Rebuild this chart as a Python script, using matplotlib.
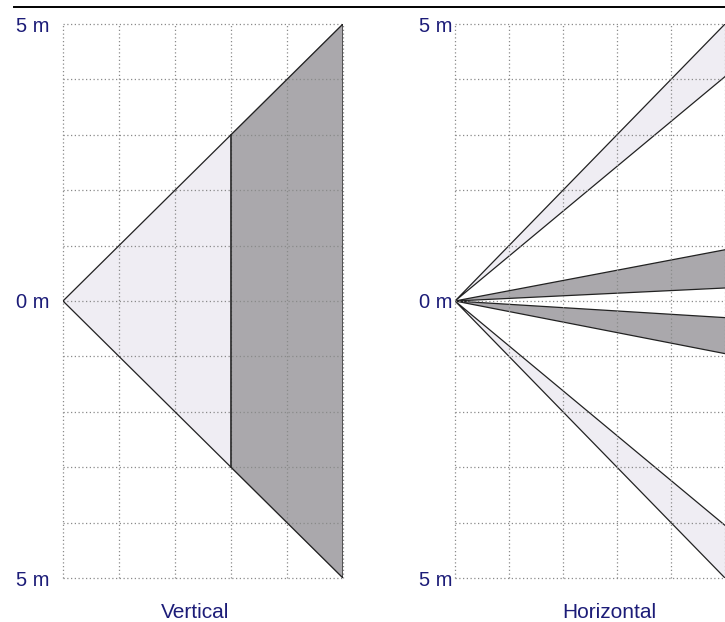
import matplotlib.pyplot as plt
from matplotlib.lines import Line2D

# vertical coverage (metres): full reach, and the distance where the dark zone starts
vert_reach = 5
vert_split = 3

# horizontal coverage: wedges as (upper slope, lower slope, shade)
horiz_wedges = [
    (1.0, 0.81, 'light'),
    (0.185, 0.047, 'dark'),
    (-0.06, -0.19, 'dark'),
    (-0.81, -1.0, 'light'),
]

y_ticks = list(range(-5, 6))
y_labels = ['5 m' if abs(v) == 5 else ('0 m' if v == 0 else '') for v in y_ticks]
panel_titles = ['Vertical', 'Horizontal']

light = '#efedf3'
dark = '#aaa8ac'
navy = '#1c1c78'
shade = {'light': light, 'dark': dark}

W, H = 725, 622
fig = plt.figure(figsize=(W / 100, H / 100), dpi=100)
plt.rcParams['font.family'] = ['Liberation Sans', 'DejaVu Sans']

ax1 = fig.add_axes([63 / W, 44 / H, 280 / W, 554 / H])
ax2 = fig.add_axes([455 / W, 44 / H, 270 / W, 554 / H])


def setup(ax, xmax, pad):
    ax.set_xlim(0, xmax)
    ax.set_ylim(-5, 5)
    ax.set_xticks(range(0, 6))
    ax.set_yticks(y_ticks)
    ax.set_xticklabels([])
    ax.set_yticklabels(y_labels, fontsize=14.5, color=navy)
    ax.tick_params(length=0, pad=pad)
    for s in ax.spines.values():
        s.set_visible(False)
    ax.set_axisbelow(False)
    ax.grid(True, color='#8a8a8a', linestyle=(0, (1, 2)), linewidth=0.9)
    for ln in ax.get_xgridlines() + ax.get_ygridlines():
        ln.set_clip_on(False)


setup(ax1, 5, 9.5)
setup(ax2, 270 / 56, 2)

# vertical view
r, s = vert_reach, vert_split
ax1.fill([0, s, s], [0, s, -s], color=light, zorder=1)
ax1.fill([s, r, r, s], [s, r, -r, -s], color=dark, zorder=1)
ax1.plot([0, r, r, 0], [0, r, -r, 0], color='#222222', lw=0.9, zorder=3)
ax1.plot([s, s], [s, -s], color='#222222', lw=1.1, zorder=3)

# horizontal view
R = 6
for up, lo, kind in horiz_wedges:
    ax2.fill([0, R, R], [0, up * R, lo * R], facecolor=shade[kind],
             edgecolor='#222222', linewidth=0.9, zorder=1)

fig.text(195 / W, 1 - 612 / H, panel_titles[0], fontsize=15, color=navy,
         ha='center', va='center')
fig.text(609 / W, 1 - 612 / H, panel_titles[1], fontsize=15, color=navy,
         ha='center', va='center')

fig.add_artist(Line2D([14 / W, 1], [1 - 7 / H, 1 - 7 / H], color='black',
                      lw=1.4, transform=fig.transFigure))

fig.savefig('out.png', dpi=100, facecolor='white')
